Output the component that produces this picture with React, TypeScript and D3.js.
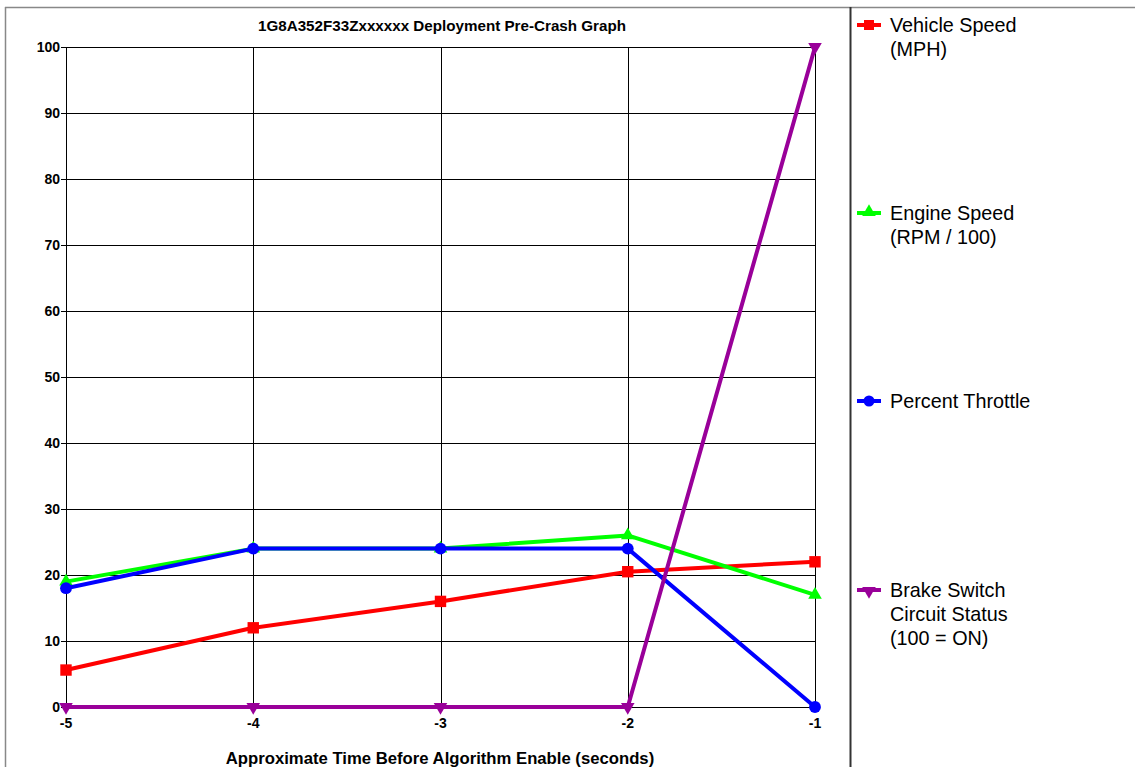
import React, { useEffect, useRef } from 'react';
import * as d3 from 'd3';

const times = [-5, -4, -3, -2, -1];
const vehicleSpeed = [5.6, 12, 16, 20.5, 22];
const engineSpeed = [19, 24, 24, 26, 17];
const throttle = [18, 24, 24, 24, 0];
const brakeSwitch = [0, 0, 0, 0, 100];
const yTicks = [0, 10, 20, 30, 40, 50, 60, 70, 80, 90, 100];

const seriesNames = ['Vehicle Speed', 'Engine Speed', 'Percent Throttle', 'Brake Switch'];
const legendLines = [
  ['Vehicle Speed', '(MPH)'],
  ['Engine Speed', '(RPM / 100)'],
  ['Percent Throttle'],
  ['Brake Switch', 'Circuit Status', '(100 = ON)'],
];
const seriesColors = ['#ff0000', '#00ff00', '#0000ff', '#990099'];
const seriesSymbols = [d3.symbolSquare, d3.symbolTriangle, d3.symbolCircle, d3.symbolTriangle];

const App: React.FC = () => {
  const svgRef = useRef<SVGSVGElement>(null);

  useEffect(() => {
    if (!svgRef.current) return;
    const svg = d3.select(svgRef.current);
    svg.selectAll('*').remove();

    const W = 1135, H = 767;
    const font = 'Arial, "Liberation Sans", sans-serif';

    svg.attr('width', W).attr('height', H).style('background', '#fff');

    // outer frame
    svg.append('line').attr('x1', 5).attr('x2', W).attr('y1', 7.5).attr('y2', 7.5)
      .attr('stroke', '#888').attr('stroke-width', 1.5);
    svg.append('line').attr('x1', 5.5).attr('x2', 5.5).attr('y1', 7).attr('y2', H)
      .attr('stroke', '#888').attr('stroke-width', 1.5);
    // legend divider
    svg.append('line').attr('x1', 850.5).attr('x2', 850.5).attr('y1', 7).attr('y2', H)
      .attr('stroke', '#333').attr('stroke-width', 2);

    const x = d3.scaleLinear().domain([-5, -1]).range([66, 815]);
    const y = d3.scaleLinear().domain([0, 100]).range([707, 47]);

    // grid
    const g = svg.append('g');
    g.selectAll('line.h').data(yTicks).join('line')
      .attr('x1', x(-5) - 5).attr('x2', x(-1))
      .attr('y1', d => Math.round(y(d)) + 0.5).attr('y2', d => Math.round(y(d)) + 0.5)
      .attr('stroke', '#000').attr('stroke-width', 1);
    g.selectAll('line.v').data(times).join('line')
      .attr('y1', y(100)).attr('y2', y(0))
      .attr('x1', d => Math.round(x(d)) + 0.5).attr('x2', d => Math.round(x(d)) + 0.5)
      .attr('stroke', '#000').attr('stroke-width', 1);

    g.selectAll('text.yt').data(yTicks).join('text')
      .attr('x', x(-5) - 6).attr('y', d => y(d) + 5)
      .attr('text-anchor', 'end').attr('font-family', font).attr('font-weight', 'bold')
      .attr('font-size', 14).text(d => d);
    g.selectAll('text.xt').data(times).join('text')
      .attr('x', d => x(d)).attr('y', 728)
      .attr('text-anchor', 'middle').attr('font-family', font).attr('font-weight', 'bold')
      .attr('font-size', 14).text(d => d);

    svg.append('text').attr('x', 442).attr('y', 31).attr('text-anchor', 'middle')
      .attr('font-family', font).attr('font-weight', 'bold').attr('font-size', 15.2)
      .text('1G8A352F33Zxxxxxx Deployment Pre-Crash Graph');
    svg.append('text').attr('x', 440).attr('y', 764).attr('text-anchor', 'middle')
      .attr('font-family', font).attr('font-weight', 'bold').attr('font-size', 16.7)
      .text('Approximate Time Before Algorithm Enable (seconds)');

    const allSeries = [vehicleSpeed, engineSpeed, throttle, brakeSwitch];
    const line = d3.line<number>().x((_, i) => x(times[i])).y(d => y(d));
    const symSize = [130, 80, 110, 80];

    [0, 1, 2, 3].forEach(si => {
      const vals = allSeries[si];
      const color = seriesColors[si];
      svg.append('path').datum(vals).attr('d', line)
        .attr('fill', 'none').attr('stroke', color).attr('stroke-width', 4)
        .attr('stroke-linejoin', 'round');
      const sym = d3.symbol().type(seriesSymbols[si]).size(symSize[si]);
      svg.selectAll(`path.m${si}`).data(vals).join('path')
        .attr('d', sym as any)
        .attr('fill', color)
        .attr('transform', (d, i) => {
          const rot = si === 3 ? ' rotate(180)' : '';
          return `translate(${x(times[i])},${y(d)})${rot}`;
        });
    });

    // legend
    const legendY = [25, 213, 401, 590];
    seriesNames.forEach((name, si) => {
      const color = seriesColors[si];
      const ly = legendY[si];
      const lg = svg.append('g').attr('class', 'legend').attr('data-name', name);
      lg.append('line').attr('x1', 857).attr('x2', 881).attr('y1', ly).attr('y2', ly)
        .attr('stroke', color).attr('stroke-width', 4);
      lg.append('path')
        .attr('d', d3.symbol().type(seriesSymbols[si]).size(si === 0 ? 100 : si === 2 ? 95 : 80) as any)
        .attr('fill', color)
        .attr('transform', `translate(869,${ly + (si === 3 ? 1 : si === 1 ? -1 : 0)})${si === 3 ? ' rotate(180)' : ''}`);
      legendLines[si].forEach((t, k) => {
        lg.append('text').attr('x', 890).attr('y', ly + 7 + k * 24)
          .attr('font-family', font).attr('font-size', 19.8).attr('fill', '#000')
          .text(t);
      });
    });
  }, []);

  return (
    <svg ref={svgRef} style={{ position: 'absolute', left: 0, top: 0, display: 'block' }} />
  );
};

export default App;
